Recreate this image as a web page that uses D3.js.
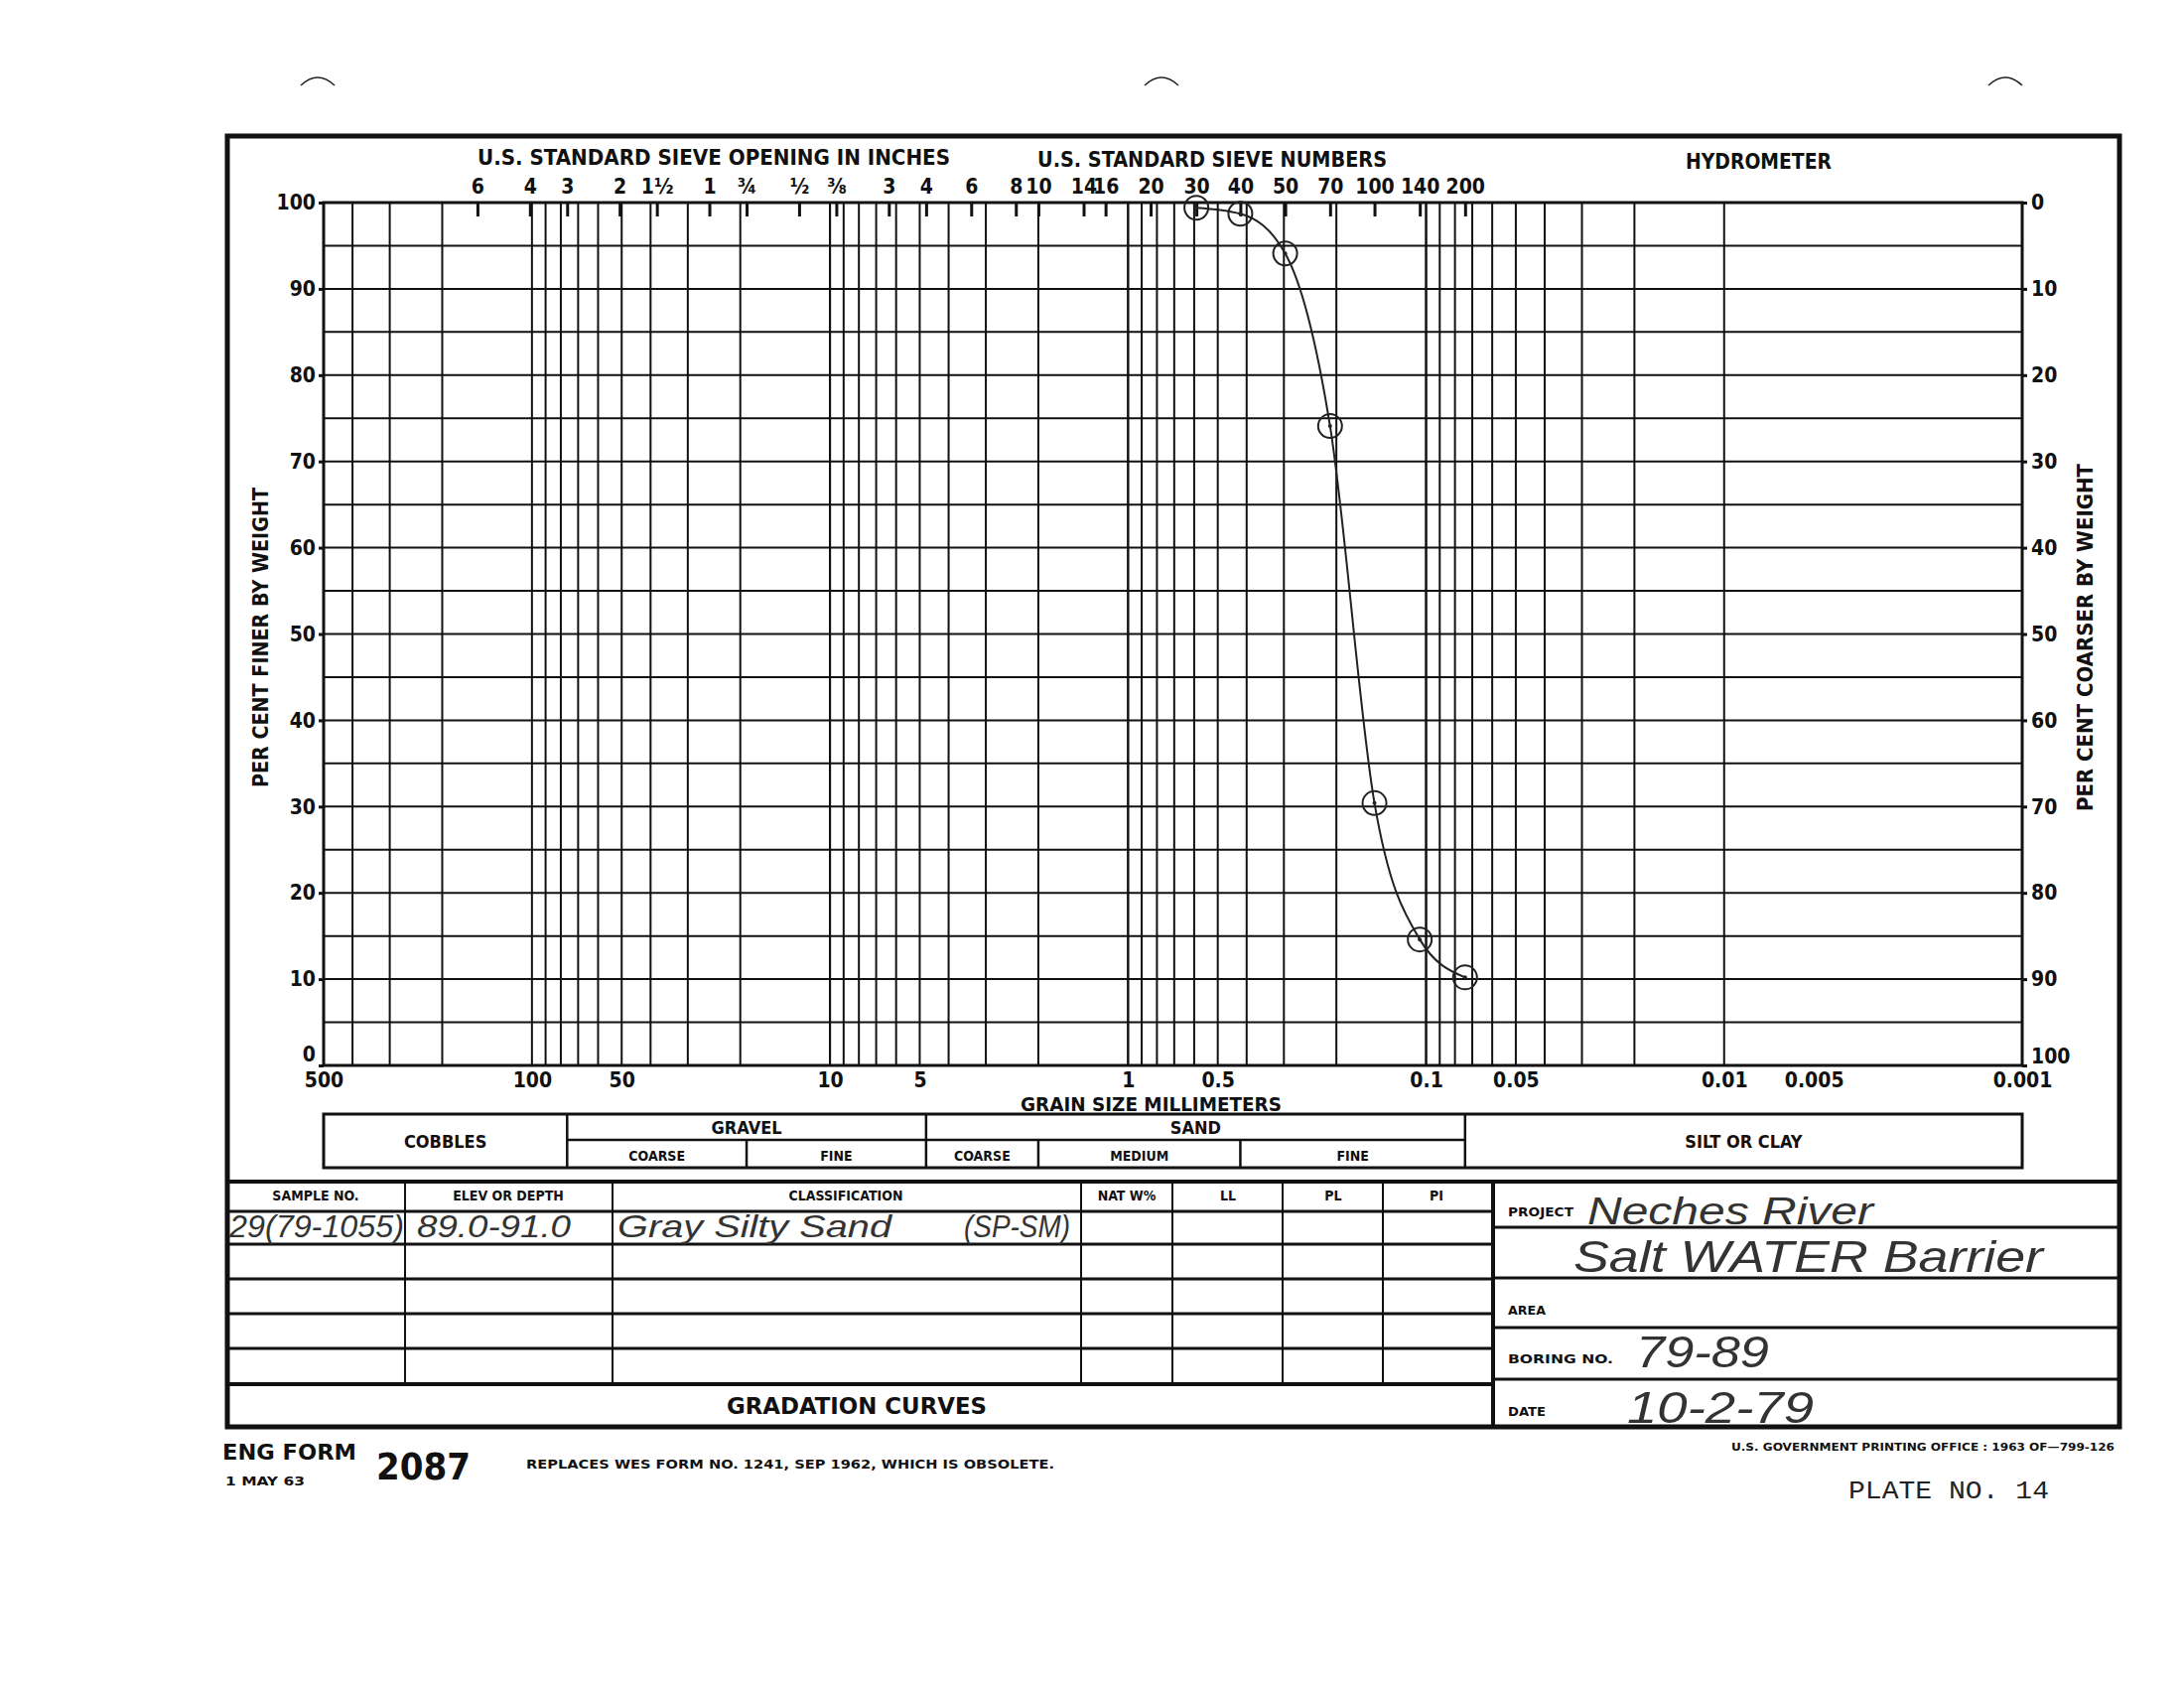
<!DOCTYPE html>
<html><head><meta charset="utf-8">
<title>Gradation Curves</title>
<style>
body{margin:0;background:#fff}
.form{font-family:'DejaVu Sans Condensed','DejaVu Sans',sans-serif;font-weight:bold;fill:#111}
.num{font-family:'DejaVu Sans Condensed','DejaVu Sans',sans-serif;font-weight:bold;font-size:21px;fill:#111}
.hand{font-family:'Liberation Sans Narrow','Liberation Sans',sans-serif;font-weight:normal;font-style:italic;fill:#333}
.mono{font-family:'Liberation Mono','DejaVu Sans Mono',monospace;fill:#222}
</style>
</head>
<body>
<svg width="2200" height="1700"></svg>
<script src="https://d3js.org/d3.v7.min.js"></script>
<script>
// sieve openings (inches) and sizes in mm
var sieveInch = ["6","4","3","2","1½","1","¾","½","⅜"];
var sieveInchMm = [152.4,101.6,76.2,50.8,38.1,25.4,19.05,12.7,9.525];
// sieve numbers and sizes in mm
var sieveNo = ["3","4","6","8","10","14","16","20","30","40","50","70","100","140","200"];
var sieveNoMm = [6.35,4.76,3.36,2.38,2.0,1.41,1.19,0.84,0.59,0.42,0.297,0.21,0.149,0.105,0.074];
// grain size axis labels
var sizeLabels = [500,100,50,10,5,1,0.5,0.1,0.05,0.01,0.005,0.001];
var pctTicks = [0,10,20,30,40,50,60,70,80,90,100];
// soil classes: boundaries in mm
var mainClass = ["COBBLES","GRAVEL","SAND","SILT OR CLAY"];
var mainBounds = [500,76.2,4.76,0.074,0.001];
var subClass = ["COARSE","FINE","COARSE","MEDIUM","FINE"];
var subBounds = [76.2,19.05,4.76,2.0,0.42,0.074];
// sample test results
var sampleSieve = ["30","40","50","70","100","140","200"];
var sampleMm = [0.59,0.42,0.297,0.21,0.149,0.105,0.074];
var percentFiner = [99.4,98.7,94.1,74.1,30.4,14.6,10.2];

var svg = d3.select("svg");
svg.append("rect").attr("width",2200).attr("height",1700).attr("fill","#fff");

var x = d3.scaleLog().domain([500,0.001]).range([326,2037]);
var y = d3.scaleLinear().domain([0,100]).range([1073,204]);
var yC = d3.scaleLinear().domain([0,100]).range([204,1073]);

function txt(s, px, py, size, cls, anchor, len){
  var t = svg.append("text").attr("class", cls || "form")
    .attr("x", px).attr("y", py).attr("font-size", size)
    .attr("text-anchor", anchor || "start").text(s);
  if (len) t.attr("textLength", len).attr("lengthAdjust","spacingAndGlyphs");
  return t;
}
function line(x1,y1,x2,y2,w){
  svg.append("line").attr("x1",x1).attr("y1",y1).attr("x2",x2).attr("y2",y2)
    .attr("stroke","#111").attr("stroke-width",w||2);
}

// punch arcs on top
[320,1170,2020].forEach(function(cx){
  svg.append("path").attr("d","M"+(cx-17)+",86 Q"+cx+",70 "+(cx+17)+",86")
    .attr("fill","none").attr("stroke","#222").attr("stroke-width",1.5);
});

// outer frame
svg.append("rect").attr("x",229).attr("y",137).attr("width",1906).attr("height",1300)
  .attr("fill","none").attr("stroke","#111").attr("stroke-width",5);

// vertical grid lines
var gridMm = [500,400,300,200];
[10,1,0.1,0.01].forEach(function(dec){
  d3.range(10,0,-1).forEach(function(m){ gridMm.push(m*dec); });
});
gridMm.push(0.001);
svg.append("g").selectAll("line").data(gridMm).enter().append("line")
  .attr("x1",function(d){return x(d);}).attr("x2",function(d){return x(d);})
  .attr("y1",y(100)).attr("y2",y(0))
  .attr("stroke","#111").attr("stroke-width",2);

// horizontal grid lines every 5 %
svg.append("g").selectAll("line").data(d3.range(0,101,5)).enter().append("line")
  .attr("x1",x(500)).attr("x2",x(0.001))
  .attr("y1",function(d){return y(d);}).attr("y2",function(d){return y(d);})
  .attr("stroke","#111").attr("stroke-width",2);

svg.append("rect").attr("x",x(500)).attr("y",y(100)).attr("width",x(0.001)-x(500)).attr("height",y(0)-y(100))
  .attr("fill","none").attr("stroke","#111").attr("stroke-width",3);

function styleAxis(g){
  g.select(".domain").remove();
  g.selectAll(".tick line").attr("stroke","#111").attr("stroke-width",3);
  g.selectAll(".tick text").attr("class","num").attr("fill","#111");
}

// left and right percentage axes
var gl = svg.append("g").attr("transform","translate("+x(500)+",0)")
  .call(d3.axisLeft(y).tickValues(pctTicks).tickSize(5).tickPadding(3)).call(styleAxis);
gl.selectAll(".tick text").filter(function(d){return d==0;}).attr("dy","-0.2em");
var gr = svg.append("g").attr("transform","translate("+x(0.001)+",0)")
  .call(d3.axisRight(yC).tickValues(pctTicks).tickSize(5).tickPadding(4)).call(styleAxis);
gr.selectAll(".tick text").filter(function(d){return d==100;}).attr("dy","-0.1em");

// bottom grain size axis
var gb = svg.append("g").attr("transform","translate(0,"+y(0)+")")
  .call(d3.axisBottom(x).tickValues(sizeLabels).tickSize(0).tickPadding(7)
    .tickFormat(function(d){return String(d);}))
  .call(styleAxis);
gb.selectAll(".tick text").attr("font-size",20);

// top sieve axes
svg.append("g").attr("transform","translate(0,"+y(100)+")")
  .call(d3.axisTop(x).tickValues(sieveInchMm).tickSizeInner(-14).tickSizeOuter(0).tickPadding(9)
    .tickFormat(function(d,i){return sieveInch[i];}))
  .call(styleAxis);
svg.append("g").attr("transform","translate(0,"+y(100)+")")
  .call(d3.axisTop(x).tickValues(sieveNoMm).tickSizeInner(-14).tickSizeOuter(0).tickPadding(9)
    .tickFormat(function(d,i){return sieveNo[i];}))
  .call(styleAxis);

// headings
txt("U.S. STANDARD SIEVE OPENING IN INCHES", 481, 166, 22, "form", "start", 476);
txt("U.S. STANDARD SIEVE NUMBERS", 1045, 168, 22, "form", "start", 352);
txt("HYDROMETER", 1698, 170, 22, "form", "start", 147);
txt("PER CENT FINER BY WEIGHT", 0, 0, 21, "form", "middle", 302)
  .attr("transform","translate(270,642) rotate(-90)");
txt("PER CENT COARSER BY WEIGHT", 0, 0, 21, "form", "middle", 350)
  .attr("transform","translate(2108,642) rotate(-90)");
txt("GRAIN SIZE MILLIMETERS", 1028, 1119, 19, "form", "start", 263);

// soil classification band
var bandTop = 1122, bandMid = 1148, bandBot = 1176;
svg.append("rect").attr("x",x(500)).attr("y",bandTop).attr("width",x(0.001)-x(500)).attr("height",bandBot-bandTop)
  .attr("fill","none").attr("stroke","#111").attr("stroke-width",3);
line(x(76.2), bandMid, x(0.074), bandMid, 2.5);
mainBounds.slice(1,-1).forEach(function(b){ line(x(b), bandTop, x(b), bandBot, 2.5); });
[19.05,2.0,0.42].forEach(function(b){ line(x(b), bandMid, x(b), bandBot, 2.5); });
mainClass.forEach(function(c,i){
  var cx = (x(mainBounds[i]) + x(mainBounds[i+1]))/2;
  var full = (i==0 || i==3);
  txt(c, cx, full ? 1156 : 1142, 18, "form", "middle");
});
subClass.forEach(function(c,i){
  var cx = (x(subBounds[i]) + x(subBounds[i+1]))/2;
  txt(c, cx, 1169, 14, "form", "middle");
});

// data table
var tTop = 1190, tHead = 1220, rows = [1253,1288,1323,1358], tCurve = 1394, tBot = 1437;
line(229, tTop, 2135, tTop, 4);
line(229, tHead, 1504, tHead, 3);
rows.forEach(function(r){ line(229, r, 1504, r, 3); });
line(229, tCurve, 1504, tCurve, 4);
[408,617,1089,1181,1292,1393].forEach(function(c){ line(c, tTop, c, tCurve, 2); });
line(1504, tTop, 1504, tBot, 4);
[1236,1287,1337,1389].forEach(function(r){ line(1504, r, 2135, r, 3); });

var heads = [["SAMPLE NO.",318],["ELEV OR DEPTH",512],["CLASSIFICATION",852],["NAT W%",1135],["LL",1237],["PL",1343],["PI",1447]];
heads.forEach(function(h){ txt(h[0], h[1], 1209, 14, "form", "middle"); });
txt("GRADATION CURVES", 732, 1424, 23, "form", "start", 262);
txt("PROJECT", 1519, 1225, 13, "form", "start", 66);
txt("AREA", 1519, 1324, 13, "form", "start", 38);
txt("BORING NO.", 1519, 1373, 13, "form", "start", 106);
txt("DATE", 1519, 1426, 13, "form", "start", 38);

// handwritten entries
txt("29(79-1055)", 231, 1246, 32, "hand", "start", 176);
txt("89.0-91.0", 420, 1246, 32, "hand", "start", 155);
txt("Gray Silty Sand", 622, 1246, 32, "hand", "start", 276);
txt("(SP-SM)", 971, 1246, 32, "hand", "start", 107);
txt("Neches River", 1599, 1233, 38, "hand", "start", 288);
txt("Salt WATER Barrier", 1585, 1281, 44, "hand", "start", 473);
txt("79-89", 1648, 1377, 44, "hand", "start", 134);
txt("10-2-79", 1639, 1433, 44, "hand", "start", 188);

// footer
txt("ENG FORM", 224, 1470, 21, "form", "start", 135);
txt("1 MAY 63", 227, 1496, 12, "form", "start", 80);
txt("2087", 379, 1490, 38, "form", "start", 95);
txt("REPLACES WES FORM NO. 1241, SEP 1962, WHICH IS OBSOLETE.", 530, 1479, 13, "form", "start", 532);
txt("U.S. GOVERNMENT PRINTING OFFICE : 1963 OF\u2014799-126", 1744, 1461, 10, "form", "start", 386);
txt("PLATE NO. 14", 1862, 1509, 25, "mono", "start", 202);

// gradation curve
var pts = sampleMm.map(function(m,i){ return {mm:m, pct:percentFiner[i], sieve:sampleSieve[i]}; });
var curve = d3.line().x(function(d){return x(d.mm);}).y(function(d){return y(d.pct);})
  .curve(d3.curveMonotoneX);
svg.append("path").datum(pts).attr("d",curve)
  .attr("fill","none").attr("stroke","#222").attr("stroke-width",2);
var gp = svg.append("g").selectAll("g").data(pts).enter().append("g");
gp.append("circle").attr("cx",function(d){return x(d.mm);}).attr("cy",function(d){return y(d.pct);})
  .attr("r",12).attr("fill","none").attr("stroke","#222").attr("stroke-width",2);
gp.append("circle").attr("cx",function(d){return x(d.mm);}).attr("cy",function(d){return y(d.pct);})
  .attr("r",2).attr("fill","#222");
</script>
</body>
</html>
